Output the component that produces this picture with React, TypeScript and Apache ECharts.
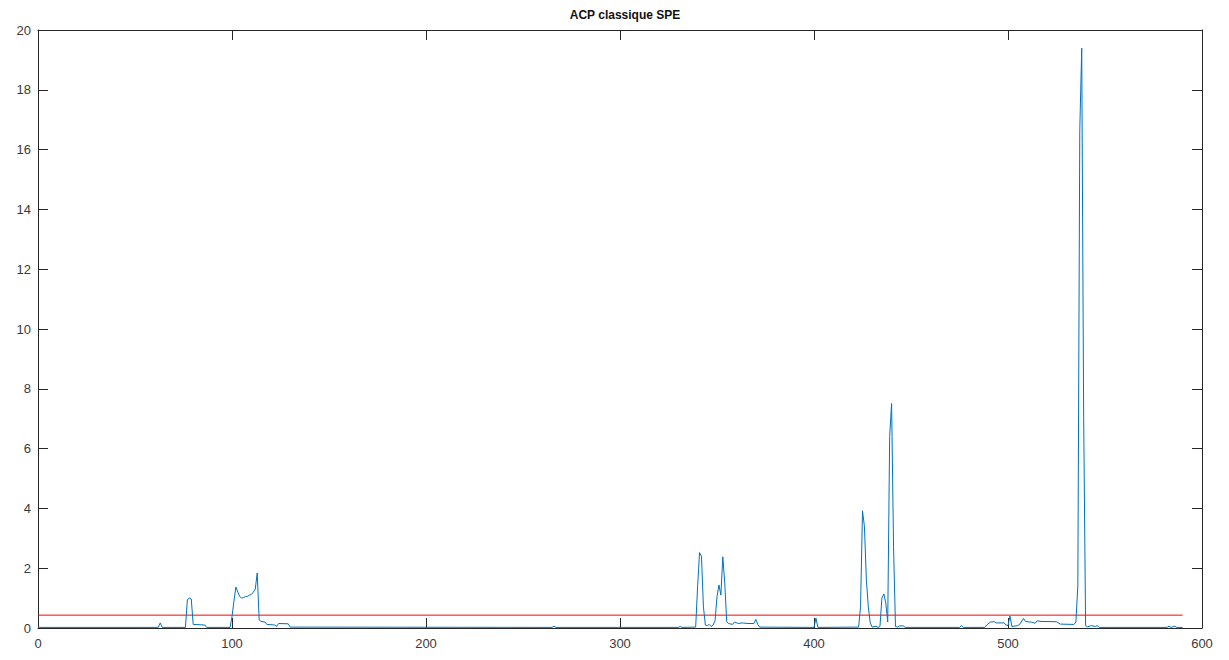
import React, { useEffect, useRef } from "react";
import * as echarts from "echarts";

const chartTitle = "ACP classique SPE";
const xTicks = [0, 100, 200, 300, 400, 500, 600];
const yTicks = [0, 2, 4, 6, 8, 10, 12, 14, 16, 18, 20];
const threshold = 0.43;
const thresholdEnd = 590;

const sampleIdx = [
  0, 62, 63, 64, 76, 77, 78, 79, 80, 86, 87, 99, 100, 101, 102, 103, 104, 105, 106, 107, 108, 109, 110, 111, 112, 113,
  114, 115, 117, 118, 122, 123, 124, 129, 130, 265, 266, 267, 330, 331, 332, 339, 340, 341, 342, 343, 344, 345, 346,
  347, 348, 349, 350, 351, 352, 353, 354, 355, 356, 358, 359, 361, 363, 366, 369, 370, 371, 372, 400, 401, 402, 423,
  424, 425, 426, 427, 428, 429, 430, 432, 433, 434, 435, 436, 437, 438, 439, 440, 441, 442, 443, 444, 446, 447, 475,
  476, 477, 488, 489, 491, 493, 494, 498, 499, 500, 501, 502, 505, 506, 508, 509, 511, 512, 514, 515, 517, 525, 527,
  534, 535, 536, 537, 538, 539, 540, 541, 543, 545, 546, 547, 582, 583, 584, 586, 587, 590,
];
const speValues = [
  0.02, 0.02, 0.17, 0.02, 0.02, 0.95, 1.0, 0.97, 0.12, 0.1, 0.02, 0.02, 0.38, 0.9, 1.37, 1.2, 1.05, 1.0, 1.02, 1.05,
  1.06, 1.1, 1.12, 1.2, 1.3, 1.84, 0.27, 0.22, 0.2, 0.12, 0.1, 0.05, 0.15, 0.14, 0.03, 0.02, 0.06, 0.02, 0.02, 0.05,
  0.02, 0.03, 1.38, 2.52, 2.4, 0.71, 0.1, 0.08, 0.12, 0.05, 0.1, 0.25, 1.05, 1.44, 1.1, 2.38, 1.5, 0.21, 0.15, 0.12,
  0.2, 0.15, 0.17, 0.15, 0.15, 0.29, 0.12, 0.03, 0.02, 0.33, 0.02, 0.03, 0.71, 3.92, 3.39, 1.6, 0.71, 0.17, 0.03,
  0.06, 0.02, 0.05, 1.0, 1.14, 0.84, 0.2, 6.4, 7.51, 2.72, 0.05, 0.03, 0.07, 0.07, 0.02, 0.02, 0.08, 0.02, 0.02, 0.1,
  0.2, 0.21, 0.17, 0.17, 0.1, 0.08, 0.4, 0.05, 0.08, 0.12, 0.32, 0.22, 0.2, 0.2, 0.16, 0.24, 0.22, 0.21, 0.13, 0.12,
  0.2, 1.41, 16.64, 19.39, 7.05, 0.08, 0.04, 0.08, 0.05, 0.08, 0.02, 0.02, 0.06, 0.02, 0.06, 0.02, 0.02,
];

const axisColor = "#262626";
const labelColor = "#3a3a3a";
const font = "'Liberation Sans', Arial, Helvetica, sans-serif";

export default function App() {
  const ref = useRef<HTMLDivElement>(null);
  useEffect(() => {
    if (!ref.current) return;
    const chart = echarts.init(ref.current, undefined, { renderer: "svg" });
    const line = sampleIdx.map((x, i) => [x, speValues[i]]);
    const xMin = xTicks[0];
    const xMax = xTicks[xTicks.length - 1];
    const xInt = xTicks[1] - xTicks[0];
    const yMin = yTicks[0];
    const yMax = yTicks[yTicks.length - 1];
    const yInt = yTicks[1] - yTicks[0];
    const baseAxis = {
      type: "value" as const,
      axisLine: { show: true, onZero: false, lineStyle: { color: axisColor, width: 1 } },
      axisTick: { show: true, inside: true, length: 10, lineStyle: { color: axisColor, width: 1 } },
      splitLine: { show: false },
    };
    chart.setOption({
      animation: false,
      backgroundColor: "#ffffff",
      title: {
        text: chartTitle,
        left: 620,
        top: 4,
        textAlign: "center",
        textStyle: { fontFamily: font, fontSize: 12, fontWeight: "bold", color: "#111" },
      },
      grid: { left: 38, right: 27, top: 30, bottom: 32 },
      xAxis: [
        {
          ...baseAxis,
          position: "bottom",
          min: xMin,
          max: xMax,
          interval: xInt,
          axisLabel: { show: true, margin: 9, color: labelColor, fontFamily: font, fontSize: 13 },
        },
        {
          ...baseAxis,
          position: "top",
          min: xMin,
          max: xMax,
          interval: xInt,
          axisLabel: { show: false },
        },
      ],
      yAxis: [
        {
          ...baseAxis,
          position: "left",
          min: yMin,
          max: yMax,
          interval: yInt,
          axisLabel: { show: true, margin: 7, color: labelColor, fontFamily: font, fontSize: 13 },
        },
        {
          ...baseAxis,
          position: "right",
          min: yMin,
          max: yMax,
          interval: yInt,
          axisLabel: { show: false },
        },
      ],
      series: [
        {
          type: "line",
          data: line,
          showSymbol: false,
          symbol: "none",
          lineStyle: { color: "#0072BD", width: 1 },
          z: 3,
        },
        {
          type: "line",
          data: [
            [0, threshold],
            [thresholdEnd, threshold],
          ],
          showSymbol: false,
          symbol: "none",
          lineStyle: { color: "#FF0000", width: 1 },
          z: 2,
        },
      ],
    });
    return () => chart.dispose();
  }, []);
  return <div ref={ref} style={{ position: "fixed", left: 0, top: 0, width: 1229, height: 660 }} />;
}
